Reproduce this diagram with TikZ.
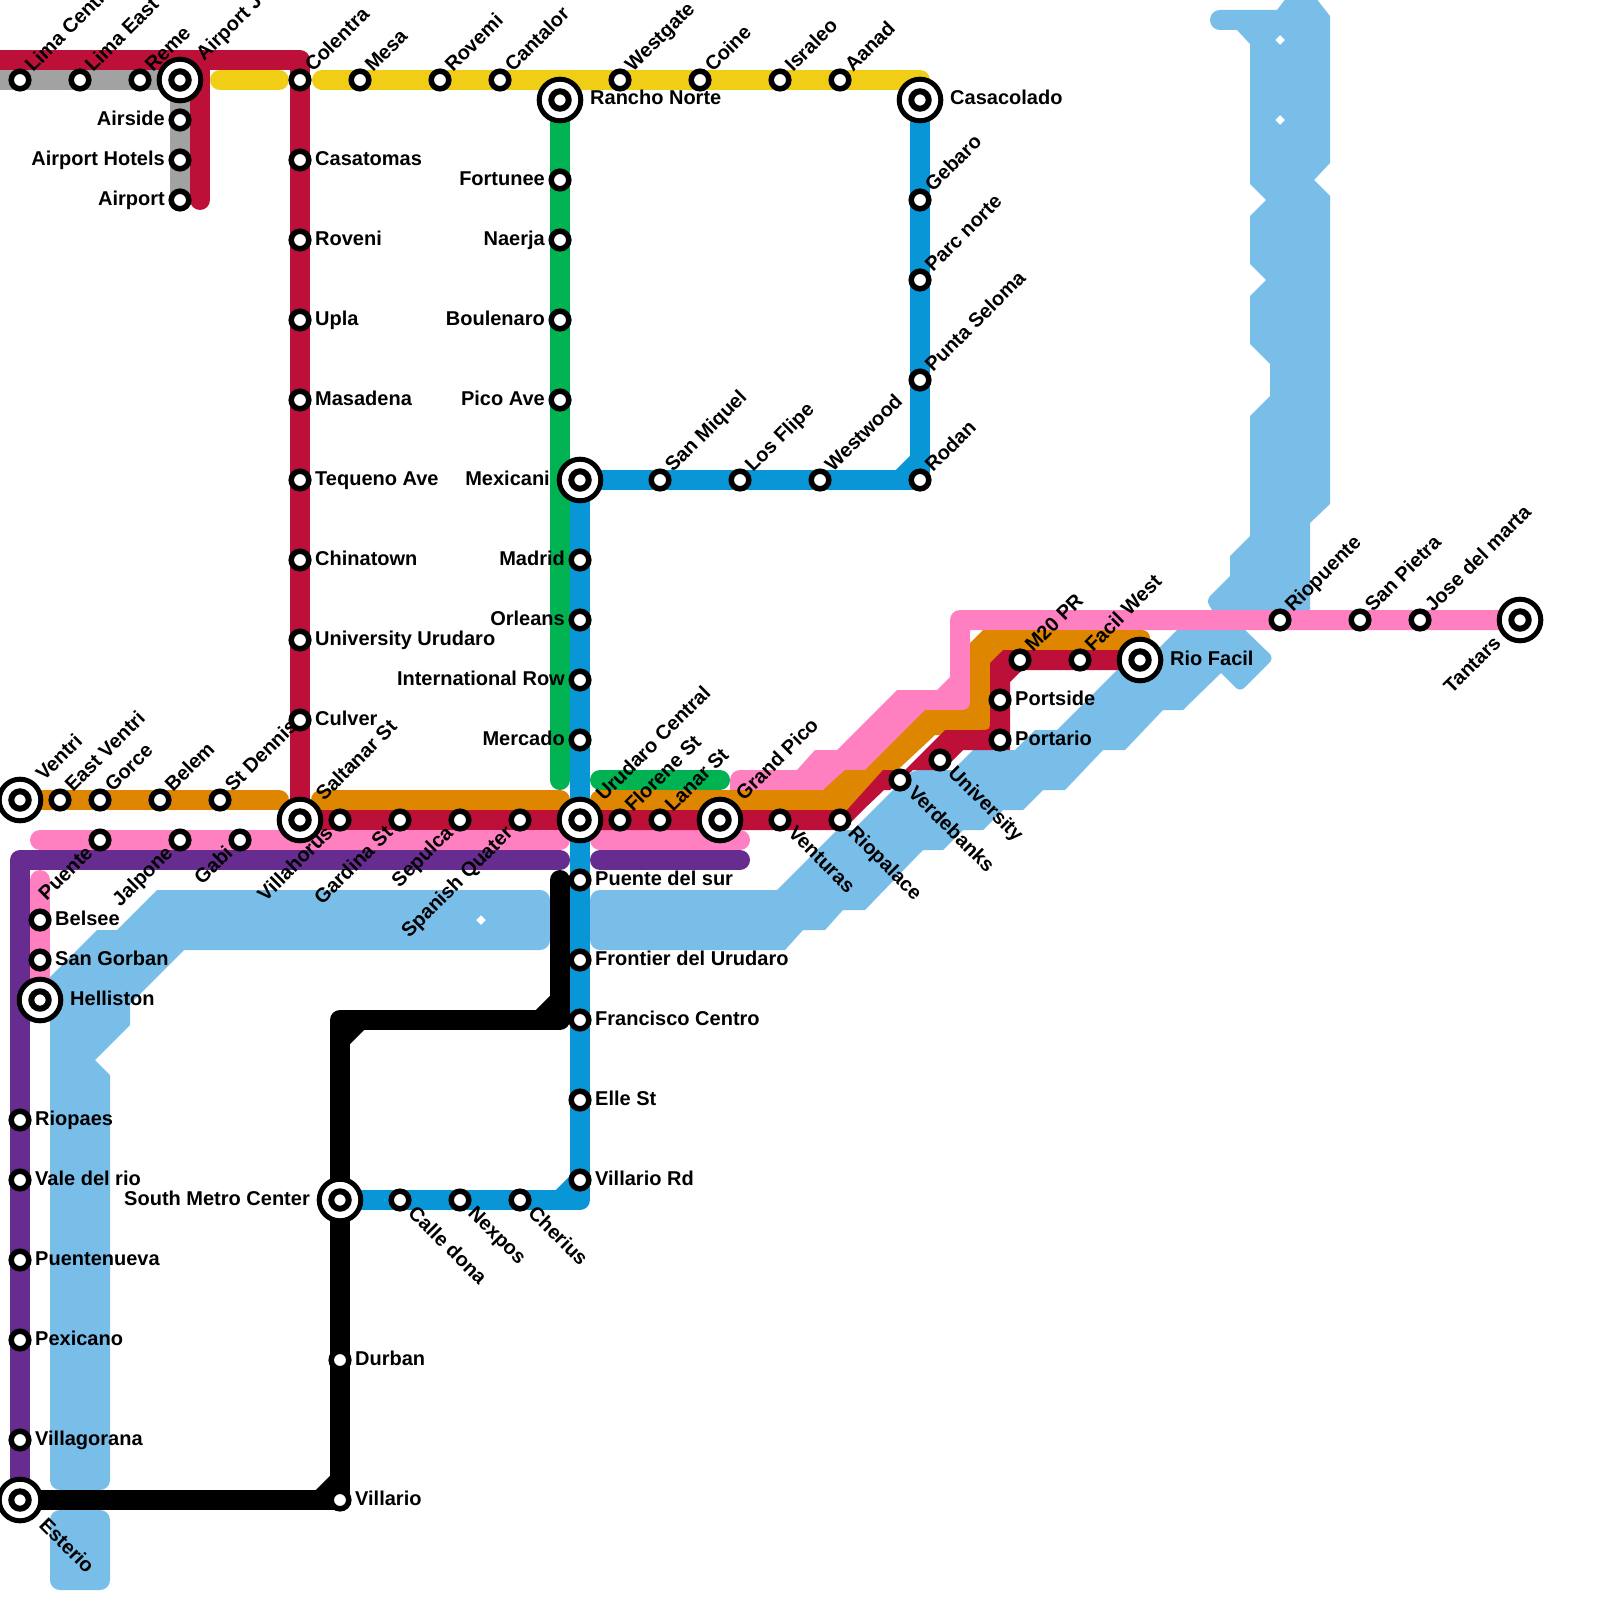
\documentclass[tikz,border=0pt]{standalone}
\usepackage{fontspec}
\setmainfont{Liberation Sans}
\definecolor{cred}{HTML}{BD1038}
\definecolor{cgray}{HTML}{A2A2A2}
\definecolor{cyel}{HTML}{F0CE15}
\definecolor{cblue}{HTML}{0896D7}
\definecolor{cgreen}{HTML}{00B251}
\definecolor{corange}{HTML}{DF8600}
\definecolor{cpink}{HTML}{FF80C0}
\definecolor{cpurple}{HTML}{662C90}
\definecolor{criver}{HTML}{79BDE9}
\tikzset{
  metro/.style={line width=20pt,line join=round,line cap=round},
  chord/.style={line width=20pt,line cap=butt},
  stn/.style={circle,draw=black,fill=white,line width=5.5pt,minimum size=17.6pt,inner sep=0pt},
  hubo/.style={circle,draw=black,fill=white,line width=5pt,minimum size=41.6pt,inner sep=0pt},
  hubi/.style={circle,draw=black,fill=white,line width=6pt,minimum size=17.4pt,inner sep=0pt},
  lab/.style={inner sep=0pt,text=black,font=\bfseries\fontsize{20}{24}\selectfont},
  lab-ne/.style={lab,anchor=base west,xshift=13pt,yshift=7pt,rotate=45},
  lab-se/.style={lab,anchor=base west,xshift=7pt,yshift=-14pt,rotate=-45},
  lab-sw/.style={lab,anchor=base east,xshift=-6pt,yshift=-14pt,rotate=45},
  lab-r/.style={lab,anchor=base west,xshift=15pt,yshift=-5pt},
  lab-l/.style={lab,anchor=base east,xshift=-15pt,yshift=-5pt},
  lab-hne/.style={lab,anchor=base west,xshift=24pt,yshift=18pt,rotate=45},
  lab-hse/.style={lab,anchor=base west,xshift=18pt,yshift=-26pt,rotate=-45},
  lab-hsw/.style={lab,anchor=base east,xshift=-18pt,yshift=-24pt,rotate=45},
  lab-hr/.style={lab,anchor=base west,xshift=30pt,yshift=-5pt},
  lab-hl/.style={lab,anchor=base east,xshift=-30pt,yshift=-5pt},
}
\begin{document}
\begin{tikzpicture}[x=1pt,y=-1pt]
\useasboundingbox (0,0) rectangle (1600,1600);
\clip (0,0) rectangle (1600,1600);
\fill[white] (0,0) rectangle (1600,1600);
% station positions
\foreach \n/\x/\y in {
 lima/20/80,limae/80/80,reme/140/80,airj/180/80,colentra/300/80,mesa/360/80,rovemi/440/80,cantalor/500/80,
 rancho/560/100,westgate/620/80,coine/700/80,israleo/780/80,aanad/840/80,casa/920/100,
 airside/180/120,airhot/180/160,airport/180/200,
 casatomas/300/160,roveni/300/240,upla/300/320,masadena/300/400,tequeno/300/480,chinatown/300/560,uniuru/300/640,culver/300/720,saltanar/300/820,
 fortunee/560/180,naerja/560/240,boulenaro/560/320,pico/560/400,mexicani/580/480,madrid/580/560,orleans/580/620,introw/580/680,mercado/580/740,
 urucen/580/820,puentesur/580/880,frontier/580/960,francisco/580/1020,elle/580/1100,villarord/580/1180,
 sanmiquel/660/480,losflipe/740/480,westwood/820/480,rodan/920/480,punta/920/380,parc/920/280,gebaro/920/200,
 ventri/20/800,eventri/60/800,gorce/100/800,belem/160/800,dennis/220/800,
 puente/100/840,jalpone/180/840,gabi/240/840,villahorus/340/820,gardina/400/820,sepulca/460/820,spanish/520/820,
 florene/620/820,lanar/660/820,grand/720/820,venturas/780/820,riopalace/840/820,verde/900/780,university/940/760,
 portario/1000/740,portside/1000/700,mtwenty/1020/660,facil/1080/660,riofacil/1140/660,
 riopuente/1280/620,pietra/1360/620,jose/1420/620,tantars/1520/620,
 belsee/40/920,gorban/40/960,helliston/40/1000,riopaes/20/1120,vale/20/1180,puentenueva/20/1260,pexicano/20/1340,villagorana/20/1440,esterio/20/1500,
 southmc/340/1200,calle/400/1200,nexpos/460/1200,cherius/520/1200,durban/340/1360,villario/340/1500}
 {\coordinate (\n) at (\x,\y);}
\coordinate (westend) at (0,80);
\coordinate (redwest) at (0,60);
% river
\fill[criver,even odd rule] (50,977) -- (97,930) -- (117,930) -- (157,890) [rounded corners=10pt] -- (550,890) -- (550,950) [sharp corners] -- (184,950) -- (130,1004) -- (130,1025) -- (95,1060) -- (110,1075) [rounded corners=10pt] -- (110,1490) -- (50,1490) [sharp corners] -- cycle
  (481,915) -- (486,920) -- (481,925) -- (476,920) -- cycle;
\fill[criver,rounded corners=10pt] (50,1510) rectangle (110,1590);
\fill[criver] (600,890) -- (777,890) -- (837,830) -- (853,830) [rounded corners=6pt] -- (913,770) [sharp corners] -- (953,770) -- (973,750) -- (1015,750) -- (1035,730) -- (1057,730) -- (1117,670) -- (1137,650) -- (1157,650) -- (1177,630) -- (1245,630) [rounded corners=6pt] -- (1274,658) -- (1240,692) [sharp corners] -- (1221,673) -- (1183,710) -- (1163,710) -- (1125,750) -- (1103,750) -- (1065,790) -- (1043,790) -- (1023,810) -- (1003,810) -- (983,830) -- (963,830) -- (943,850) -- (923,850) -- (865,910) -- (843,910) -- (825,930) -- (803,930) -- (785,950) [rounded corners=10pt] -- (590,950) -- (590,890) [sharp corners] -- cycle;
\fill[criver,even odd rule] (1237,30) [rounded corners=9.9pt] -- (1210,30) -- (1210,10) [sharp corners] -- (1277,10) -- (1287,-3) -- (1315,-3) -- (1330,16) -- (1330,163) -- (1314,180) -- (1330,196) -- (1330,504) -- (1310,523) -- (1310,615) -- (1215,615) [rounded corners=6pt] -- (1206,600) [sharp corners] -- (1230,576) -- (1230,556) -- (1250,536) -- (1250,416) -- (1270,396) -- (1270,364) -- (1250,344) -- (1250,296) -- (1266,280) -- (1250,264) -- (1250,216) -- (1266,200) -- (1250,184) -- (1250,44) -- cycle
  (1280,35) -- (1285,40) -- (1280,45) -- (1275,40) -- cycle
  (1280,115) -- (1285,120) -- (1280,125) -- (1275,120) -- cycle;
% gray
\draw[metro,cgray,line cap=butt] (westend) -- (airj) -- (airport);
% red top
\draw[metro,cred] (redwest) -- (300,60) -- (saltanar);
\draw[metro,cred] (200,60) -- (200,200);
% yellow
\draw[metro,cyel] (220,80) -- (279,80);
\draw[metro,cyel] (322,80) -- (920,80) -- (casa);
% green
\draw[metro,cgreen] (rancho) -- (560,780);
\draw[metro,cgreen] (600,780) -- (720,780);
% pink
\fill[cpink] (730,795) [rounded corners=10pt] -- (730,770) [sharp corners] -- (797,770) -- (815,750) -- (837,750) -- (897,690) -- (937,690) -- (950,677) [rounded corners=10pt] -- (950,610) [sharp corners] -- (tantars |- 0,610) -- (tantars |- 0,630) -- (970,630) -- (970,715) -- (935,715) -- (860,790) -- (860,795) -- cycle;
\draw[metro,cpink] (40,840) -- (560,840);
\draw[metro,cpink] (600,840) -- (740,840);
\draw[metro,cpink] (40,880) -- (helliston);
% purple
\draw[metro,cpurple] (esterio) -- (20,860) -- (560,860);
\draw[metro,cpurple] (600,860) -- (740,860);
% orange
\draw[metro,corange] (ventri) -- (279,800);
\draw[metro,corange] (321,800) -- (560,800);
\fill[corange] (600,812) [rounded corners=10pt] -- (590,812) -- (590,790) [sharp corners] -- (823,790) -- (845,770) -- (865,770) -- (925,710) [rounded corners=7pt] -- (970,710) [sharp corners] -- (970,643) -- (983,630) [rounded corners=8pt] -- (1150,630) [sharp corners] -- (1150,660) -- (995,660) -- (995,735) -- (935,735) -- (860,805) -- (855,812) -- cycle;
% red lower
\draw[line width=20pt,cred] (saltanar) -- (570,820);
\fill[cred] (590,810) -- (847,810) -- (883,770) -- (905,770) -- (945,730) -- (980,730) .. controls (990,730) .. (990,720) -- (990,663) -- (1003,650) -- (1130,650) -- (1130,670) -- (1022,670) -- (1010,682) -- (1010,750) -- (963,750) -- (943,770) -- (913,770) -- (890,790) -- (884,790) -- (863,810) -- (843,830) -- (590,830) -- cycle;
% blue
\draw[metro,cblue,line cap=butt] (casa) -- (rodan) -- (mexicani) -- (580,1200) -- (southmc);
\draw[chord,cblue] (900,480) -- (920,460);
\draw[chord,cblue] (560,1200) -- (580,1180);
% black
\draw[metro,black] (560,880) -- (560,1020) -- (340,1020) -- (villario) -- (esterio);
\draw[chord,black] (540,1020) -- (560,1000);
\draw[chord,black] (360,1020) -- (340,1040);
\draw[chord,black] (320,1500) -- (340,1480);
% small stations
\foreach \n in {lima,limae,reme,colentra,mesa,rovemi,cantalor,westgate,coine,israleo,aanad,airside,airhot,airport,
 casatomas,roveni,upla,masadena,tequeno,chinatown,uniuru,culver,fortunee,naerja,boulenaro,pico,madrid,orleans,introw,mercado,
 puentesur,frontier,francisco,elle,villarord,sanmiquel,losflipe,westwood,rodan,punta,parc,gebaro,
 eventri,gorce,belem,dennis,puente,jalpone,gabi,villahorus,gardina,sepulca,spanish,florene,lanar,venturas,riopalace,verde,university,
 portario,portside,mtwenty,facil,riopuente,pietra,jose,belsee,gorban,riopaes,vale,puentenueva,pexicano,villagorana,calle,nexpos,cherius,durban,villario}
 {\node[stn] (s-\n) at (\n) {};}
% interchange stations
\foreach \n in {airj,rancho,casa,saltanar,mexicani,urucen,grand,riofacil,tantars,ventri,helliston,esterio,southmc}
 {\node[hubo] (s-\n) at (\n) {}; \node[hubi] (c-\n) at (\n) {};}
% labels
\foreach \n/\k/\t in {
 lima/ne/Lima Central,limae/ne/Lima East,reme/ne/Reme,airj/hne/Airport Junction,colentra/ne/Colentra,mesa/ne/Mesa,rovemi/ne/Rovemi,cantalor/ne/Cantalor,
 rancho/hr/Rancho Norte,westgate/ne/Westgate,coine/ne/Coine,israleo/ne/Israleo,aanad/ne/Aanad,casa/hr/Casacolado,
 airside/l/Airside,airhot/l/Airport Hotels,airport/l/Airport,
 casatomas/r/Casatomas,roveni/r/Roveni,upla/r/Upla,masadena/r/Masadena,tequeno/r/Tequeno Ave,chinatown/r/Chinatown,uniuru/r/University Urudaro,culver/r/Culver,saltanar/hne/Saltanar St,
 fortunee/l/Fortunee,naerja/l/Naerja,boulenaro/l/Boulenaro,pico/l/Pico Ave,mexicani/hl/Mexicani,madrid/l/Madrid,orleans/l/Orleans,introw/l/International Row,mercado/l/Mercado,
 urucen/hne/Urudaro Central,puentesur/r/Puente del sur,frontier/r/Frontier del Urudaro,francisco/r/Francisco Centro,elle/r/Elle St,villarord/r/Villario Rd,
 sanmiquel/ne/San Miquel,losflipe/ne/Los Flipe,westwood/ne/Westwood,rodan/ne/Rodan,punta/ne/Punta Seloma,parc/ne/Parc norte,gebaro/ne/Gebaro,
 ventri/hne/Ventri,eventri/ne/East Ventri,gorce/ne/Gorce,belem/ne/Belem,dennis/ne/St Dennis,
 puente/sw/Puente,jalpone/sw/Jalpone,gabi/sw/Gabi,villahorus/sw/Villahorus,gardina/sw/Gardina St,sepulca/sw/Sepulca,spanish/sw/Spanish Quater,
 florene/ne/Florene St,lanar/ne/Lanar St,grand/hne/Grand Pico,venturas/se/Venturas,riopalace/se/Riopalace,verde/se/Verdebanks,university/se/University,
 portario/r/Portario,portside/r/Portside,mtwenty/ne/M20 PR,facil/ne/Facil West,riofacil/hr/Rio Facil,
 riopuente/ne/Riopuente,pietra/ne/San Pietra,jose/ne/Jose del marta,tantars/hsw/Tantars,
 belsee/r/Belsee,gorban/r/San Gorban,helliston/hr/Helliston,riopaes/r/Riopaes,vale/r/Vale del rio,puentenueva/r/Puentenueva,pexicano/r/Pexicano,villagorana/r/Villagorana,esterio/hse/Esterio,
 southmc/hl/South Metro Center,calle/se/Calle dona,nexpos/se/Nexpos,cherius/se/Cherius,durban/r/Durban,villario/r/Villario}
 {\node[lab-\k] (l-\n) at (\n) {\t};}
\end{tikzpicture}
\end{document}
